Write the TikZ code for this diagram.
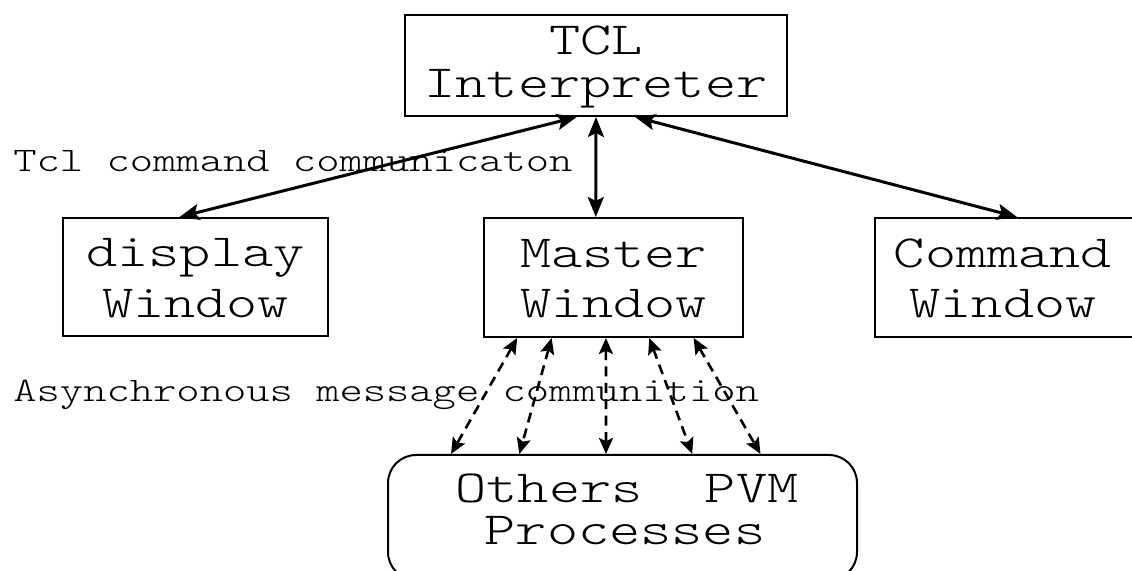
\documentclass[tikz,border=0pt]{standalone}
\usepackage{fontspec}
\newfontfamily\typefont{lmmonolt10-regular.otf}[FakeStretch=1.29]
\usetikzlibrary{arrows.meta,calc}
\tikzset{
  winbox/.style={draw, line width=1pt, rectangle, inner sep=0pt},
  procbox/.style={winbox, rounded corners=14pt},
  boxtext/.style={font=\typefont\fontsize{23pt}{23pt}\selectfont, anchor=base, inner sep=0pt},
  labeltext/.style={font=\typefont\fontsize{17.2pt}{17.2pt}\selectfont, anchor=base west, inner sep=0pt},
  link/.style={line width=1.5pt,
    {Stealth[length=10pt,width=8pt,inset=2pt]}-{Stealth[length=10pt,width=8pt,inset=2pt]}},
  msglink/.style={line width=1.3pt, dash pattern=on 5pt off 3.2pt,
    {Stealth[length=8pt,width=7pt,inset=1.6pt]}-{Stealth[length=8pt,width=7pt,inset=1.6pt]}},
}
\begin{document}
\begin{tikzpicture}[x=0.5pt,y=-0.5pt]
\useasboundingbox (0,0) rectangle (1132,571);

% boxes
\node[winbox, minimum width=191pt, minimum height=50.5pt] (tcl) at (596,65.5) {};
\node[winbox, minimum width=132.5pt, minimum height=59pt] (disp) at (195.5,277) {};
\node[winbox, minimum width=129.5pt, minimum height=59.5pt] (master) at (613.5,277.5) {};
\node[winbox, minimum width=130.5pt, minimum height=59.5pt] (cmd) at (1005.5,277.5) {};
\node[procbox, minimum width=234.5pt, minimum height=62.5pt] (procs) at (622.5,517.5) {};

% box texts
\node[boxtext] (tclA) at (596,55) {TCL};
\node[boxtext] (tclB) at (596,98) {Interpreter};
\node[boxtext] (dispA) at (195.5,267) {display};
\node[boxtext] (dispB) at (195.5,318) {Window};
\node[boxtext] (masterA) at (613.5,268) {Master};
\node[boxtext] (masterB) at (613.5,318) {Window};
\node[boxtext] (cmdA) at (1003,268) {Command};
\node[boxtext] (cmdB) at (1003,318) {Window};
\node[boxtext] (procsA) at (627,503) {Others\ \ PVM};
\node[boxtext] (procsB) at (625,545) {Processes};

% connector labels
\node[labeltext] (tcllabel) at (13,172) {Tcl command communicaton};
\node[labeltext] (msglabel) at (13,402) {Asynchronous message communition};

% Tcl command links
\draw[link] ($(tcl.south west)!0.45!(tcl.south east)$) -- ($(disp.north west)!0.44!(disp.north east)$);
\draw[link] ($(tcl.south west)!0.5!(tcl.south east)$) -- ($(master.north west)!0.432!(master.north east)$);
\draw[link] ($(tcl.south west)!0.602!(tcl.south east)$) -- ($(cmd.north west)!0.544!(cmd.north east)$);

% PVM message links
\draw[msglink] ($(master.south west)!0.131!(master.south east)$) -- ($(procs.north west)!0.136!(procs.north east)$);
\draw[msglink] ($(master.south west)!0.263!(master.south east)$) -- ($(procs.north west)!0.281!(procs.north east)$);
\draw[msglink] ($(master.south west)!0.471!(master.south east)$) -- ($(procs.north west)!0.465!(procs.north east)$);
\draw[msglink] ($(master.south west)!0.637!(master.south east)$) -- ($(procs.north west)!0.648!(procs.north east)$);
\draw[msglink] ($(master.south west)!0.807!(master.south east)$) -- ($(procs.north west)!0.793!(procs.north east)$);
\end{tikzpicture}
\end{document}
